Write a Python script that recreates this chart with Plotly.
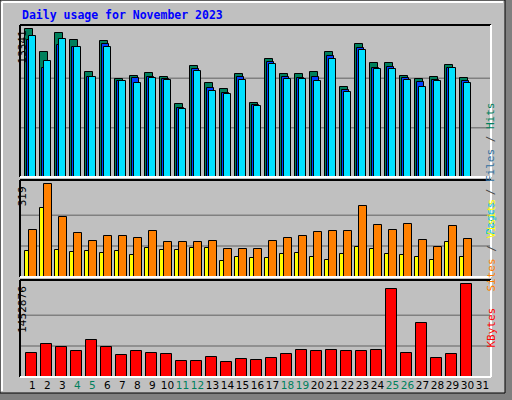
import plotly.graph_objects as go

days = list(range(1, 32))
weekend_days = [4, 5, 11, 12, 18, 19, 25, 26]

hits = [13341, 11261, 12980, 12346, 9452, 12256, 8819, 9090, 9362, 9000,
        6558, 9995, 8457, 7914, 9271, 6648, 10628, 9271, 9271, 9452,
        11261, 8095, 11985, 10266, 10266, 9090, 8819, 9000, 10085, 8909]
files = [12346, 9814, 11894, 11713, 9000, 11985, 8638, 8909, 9000, 8819,
         6196, 9723, 8005, 7552, 9000, 6467, 10356, 9000, 8909, 9000,
         10899, 7824, 11623, 9814, 9904, 8909, 8547, 8728, 9814, 8638]
pages = [12708, 10447, 12437, 11713, 9000, 11713, 8638, 8457, 8909, 8728,
         6105, 9542, 7733, 7462, 8728, 6377, 10176, 8819, 8819, 8638,
         10628, 7643, 11442, 9723, 9723, 8728, 8095, 8638, 9814, 8457]
sites = [90, 236, 94, 87, 90, 83, 90, 76, 101, 94,
         94, 101, 101, 55, 69, 66, 66, 80, 83, 69,
         59, 80, 104, 97, 80, 76, 69, 59, 121, 69]
visits = [163, 319, 208, 153, 125, 142, 142, 135, 160, 121,
          121, 121, 125, 97, 97, 97, 125, 135, 142, 156,
          160, 160, 243, 180, 163, 184, 128, 104, 177, 132]
kbytes = [383184, 510912, 463014, 415116, 574776, 463014, 351252, 415116, 383184, 367218,
          255456, 255456, 319320, 239490, 287388, 271422, 303354, 367218, 431082, 415116,
          431082, 415116, 415116, 431082, 1373076, 383184, 846198, 303354, 367218, 1452876]

MAX_HITS, MAX_VISITS, MAX_KB = 13341, 319, 1452876
GREEN = "#00805c"
MONO = "DejaVu Sans Mono"

fig = go.Figure()
line = dict(color="black", width=1)
x = days[:30]


def bar(y, color, offset, width, xa, ya):
    return go.Bar(x=x, y=y, offset=offset, width=width, marker=dict(color=color, line=line),
                  xaxis=xa, yaxis=ya, showlegend=False, hoverinfo="y")


fig.add_trace(bar(hits, GREEN, -0.5, 0.53, "x", "y"))
fig.add_trace(bar(files, "#0040ff", -0.37, 0.5, "x", "y"))
fig.add_trace(bar(pages, "#00e0ff", -0.23, 0.46, "x", "y"))
fig.add_trace(bar(sites, "#ffff00", -0.48, 0.27, "x2", "y2"))
fig.add_trace(bar(visits, "#ff8000", -0.21, 0.49, "x2", "y2"))
fig.add_trace(bar(kbytes, "#ff0000", -0.41, 0.69, "x3", "y3"))

xrange = [0.17, 31.57]
tick_text = [f"<span style='color:{GREEN}'>{d}</span>" if d in weekend_days else str(d) for d in days]
xcommon = dict(range=xrange, showgrid=False, zeroline=False, fixedrange=True)

shapes = []
# outer frame with shadow
shapes.append(dict(type="rect", xref="paper", yref="paper", x0=0, x1=1, y0=0, y1=1,
                   fillcolor="#808080", line=dict(width=0), layer="below"))
shapes.append(dict(type="rect", xref="paper", yref="paper", x0=0, x1=505 / 512, y0=7 / 400, y1=1,
                   fillcolor="#c0c0c0", line=dict(color="black", width=1), layer="below"))
shapes.append(dict(type="line", xref="paper", yref="paper", x0=2 / 512, x1=503 / 512,
                   y0=1 - 2 / 400, y1=1 - 2 / 400, line=dict(color="white", width=2), layer="below"))
shapes.append(dict(type="line", xref="paper", yref="paper", x0=2 / 512, x1=2 / 512,
                   y0=9 / 400, y1=1 - 2 / 400, line=dict(color="white", width=2), layer="below"))

panels = [(25, 177, "y", MAX_HITS), (180, 277, "y2", MAX_VISITS), (280, 377, "y3", MAX_KB)]
for top, bot, ya, mx in panels:
    y0, y1 = 1 - bot / 400, 1 - top / 400
    x0, x1 = 20 / 512, 491 / 512
    for k in (1, 2):
        shapes.append(dict(type="line", xref="paper", yref=ya, x0=x0, x1=x1, y0=mx * k / 3, y1=mx * k / 3,
                           line=dict(color="#808080", width=1.5), layer="below"))
    shapes.append(dict(type="line", xref="paper", yref="paper", x0=x0, x1=x1, y0=y1, y1=y1,
                       line=dict(color="black", width=2)))
    shapes.append(dict(type="line", xref="paper", yref="paper", x0=x0, x1=x0, y0=y0, y1=y1,
                       line=dict(color="black", width=2)))
    shapes.append(dict(type="line", xref="paper", yref="paper", x0=x1, x1=x1, y0=y0, y1=y1,
                       line=dict(color="white", width=2)))
    shapes.append(dict(type="line", xref="paper", yref="paper", x0=x0, x1=x1, y0=y0, y1=y0,
                       line=dict(color="white", width=2)))

annotations = [
    dict(text="<b>Daily usage for November 2023</b>", x=20 / 512, y=1 - 15 / 400, xref="paper", yref="paper",
         xanchor="left", yanchor="middle", showarrow=False, font=dict(family=MONO, size=11.5, color="#0000ff")),
    dict(text="13341", x=14 / 512, y=MAX_HITS, xref="paper", yref="y", textangle=-90, yanchor="top",
         showarrow=False, font=dict(family="DejaVu Sans", size=10.5, color="black")),
    dict(text="319", x=14 / 512, y=MAX_VISITS, xref="paper", yref="y2", textangle=-90, yanchor="top",
         showarrow=False, font=dict(family="DejaVu Sans", size=10.5, color="black")),
    dict(text="1452876", x=14 / 512, y=MAX_KB, xref="paper", yref="y3", textangle=-90, yanchor="top",
         showarrow=False, font=dict(family="DejaVu Sans", size=10.5, color="black")),
    dict(text="<span style='color:#00c0e0'>Pages</span> / <span style='color:#3070a0'>Files</span>"
              f" / <span style='color:{GREEN}'>Hits</span>",
         x=499 / 512, y=1 - 100 / 400, xref="paper", yref="paper", textangle=-90, showarrow=False,
         font=dict(family=MONO, size=11, color="#404040")),
    dict(text="<span style='color:#ff8000'>Sites</span> / <span style='color:#ffff00'>Visits</span>",
         x=499 / 512, y=1 - 245 / 400, xref="paper", yref="paper", textangle=-90, showarrow=False,
         font=dict(family=MONO, size=11, color="#404040")),
    dict(text="KBytes", x=499 / 512, y=1 - 350 / 400, xref="paper", yref="paper", textangle=-90,
         showarrow=False, font=dict(family=MONO, size=11, color="#ff0000")),
]

fig.update_layout(
    width=512, height=400, margin=dict(l=0, r=0, t=0, b=0),
    paper_bgcolor="#c0c0c0", plot_bgcolor="rgba(0,0,0,0)",
    barmode="overlay", bargap=0,
    xaxis=dict(domain=[20 / 512, 491 / 512], anchor="y", showticklabels=False, **xcommon),
    xaxis2=dict(domain=[20 / 512, 491 / 512], anchor="y2", showticklabels=False, **xcommon),
    xaxis3=dict(domain=[20 / 512, 491 / 512], anchor="y3", tickvals=days, ticktext=tick_text,
                ticks="", tickangle=0, tickfont=dict(family="DejaVu Sans", size=10.5, color="black"),
                **xcommon),
    yaxis=dict(domain=[1 - 177 / 400, 1 - 25 / 400], range=[0, 13703], visible=False, fixedrange=True),
    yaxis2=dict(domain=[1 - 277 / 400, 1 - 180 / 400], range=[0, 334], visible=False, fixedrange=True),
    yaxis3=dict(domain=[1 - 377 / 400, 1 - 280 / 400], range=[0, 1521500], visible=False, fixedrange=True),
    shapes=shapes, annotations=annotations,
)

fig.write_html("out.html", config={"displayModeBar": False},
               post_script="document.body.style.margin='0';")
